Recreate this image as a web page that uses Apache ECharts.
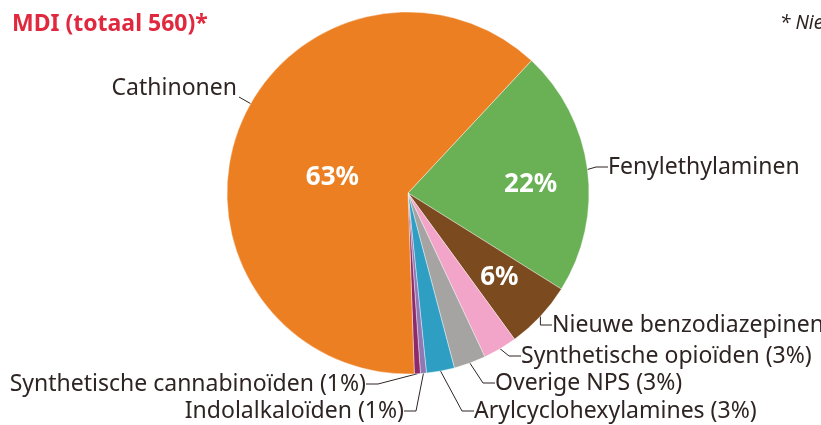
<!DOCTYPE html>
<html lang="nl">
<head>
    <meta charset="UTF-8">
    <title>MDI</title>
    <script src="https://cdn.jsdelivr.net/npm/echarts@6/dist/echarts.min.js"></script>
    <style>
        html, body { margin: 0; padding: 0; background: #fff; }
        #chart { width: 821px; height: 425px; }
    </style>
</head>
<body>
    <div id="chart"></div>
    <script>
        // volgorde met de klok mee, beginnend bij Fenylethylaminen
        const categories = ['Fenylethylaminen', 'Nieuwe benzodiazepinen', 'Synthetische opioïden', 'Overige NPS',
            'Arylcyclohexylamines', 'Indolalkaloïden', 'Synthetische cannabinoïden', 'Cathinonen'];
        const counts = [123, 34, 17, 16, 14, 3, 3, 350];
        const percents = [22, 6, 3, 3, 3, 1, 1, 63];
        const colors = ['#6ab156', '#7b4a1e', '#f2a4c9', '#a5a4a3', '#2f9ec3', '#8f78b4', '#8d2a6c', '#ed7f23'];

        const textColor = '#2e2523';
        const font = 'Noto Sans';
        const center = [408, 193];
        const radius = 181;

        // plek van de buitenste labels
        const outerPos = {
            'Cathinonen': [237, 88, 'right'],
            'Fenylethylaminen': [608, 167, 'left'],
            'Nieuwe benzodiazepinen': [552, 325, 'left'],
            'Synthetische opioïden': [521, 356, 'left'],
            'Overige NPS': [495, 383, 'left'],
            'Arylcyclohexylamines': [474, 411, 'left'],
            'Indolalkaloïden': [404, 411, 'right'],
            'Synthetische cannabinoïden': [366, 384, 'right']
        };
        // verschuiving van de percentages in de taart
        const innerShift = {
            'Cathinonen': [12, 17],
            'Fenylethylaminen': [30, 4],
            'Nieuwe benzodiazepinen': [23, 21]
        };

        const pieData = categories.map((name, i) => ({
            name: name,
            value: counts[i],
            pct: percents[i],
            itemStyle: { color: colors[i] }
        }));

        // punt op de rand van de taart, richting p
        function onRim(p, gap) {
            const dx = p[0] - center[0], dy = p[1] - center[1];
            const d = Math.sqrt(dx * dx + dy * dy);
            const r = radius + gap;
            return [center[0] + dx / d * r, center[1] + dy / d * r];
        }

        const chart = echarts.init(document.getElementById('chart'));
        chart.setOption({
            animation: false,
            graphic: [
                {
                    type: 'text', left: 12, top: 13,
                    style: { text: 'MDI (totaal 560)*', font: 'bold 23px "Noto Sans"', fill: '#e0293e' }
                },
                {
                    type: 'text', left: 780, top: 14,
                    style: { text: '* Niet', font: 'italic 19px "Noto Sans"', fill: textColor }
                }
            ],
            series: [
                {
                    type: 'pie',
                    center: center,
                    radius: [0, radius],
                    startAngle: 47,
                    clockwise: true,
                    data: pieData,
                    itemStyle: { borderColor: '#fff', borderWidth: 0.4 },
                    label: {
                        show: true,
                        position: 'outside',
                        color: textColor,
                        fontFamily: font,
                        fontSize: 23,
                        overflow: 'none',
                        formatter: p => p.dataIndex < 2 || p.dataIndex === 7 ? p.name : p.name + ' (' + p.data.pct + '%)'
                    },
                    labelLine: {
                        show: true,
                        length: 8,
                        length2: 12,
                        lineStyle: { color: textColor, width: 1 }
                    },
                    labelLayout: function (params) {
                        const name = categories[params.dataIndex];
                        const pos = outerPos[name];
                        const out = { x: pos[0], y: pos[1], align: pos[2], verticalAlign: 'middle' };
                        if (name === 'Cathinonen') {
                            const a = [pos[0] + 2, pos[1] + 9];
                            out.labelLinePoints = [onRim(a, 0), a, a];
                        }
                        return out;
                    },
                    emphasis: { disabled: true }
                },
                {
                    type: 'pie',
                    center: center,
                    radius: [0, radius],
                    startAngle: 47,
                    clockwise: true,
                    silent: true,
                    data: pieData.map(d => ({ name: d.name, value: d.value, pct: d.pct })),
                    itemStyle: { color: 'rgba(0,0,0,0)' },
                    label: {
                        show: true,
                        position: 'inside',
                        color: '#fff',
                        fontFamily: font,
                        fontWeight: 'bold',
                        fontSize: 26,
                        formatter: p => innerShift[p.name] ? p.data.pct + '%' : ''
                    },
                    labelLine: { show: false },
                    labelLayout: function (params) {
                        const s = innerShift[categories[params.dataIndex]];
                        return s ? { dx: s[0], dy: s[1] } : {};
                    },
                    emphasis: { disabled: true }
                }
            ]
        });
    </script>
</body>
</html>
